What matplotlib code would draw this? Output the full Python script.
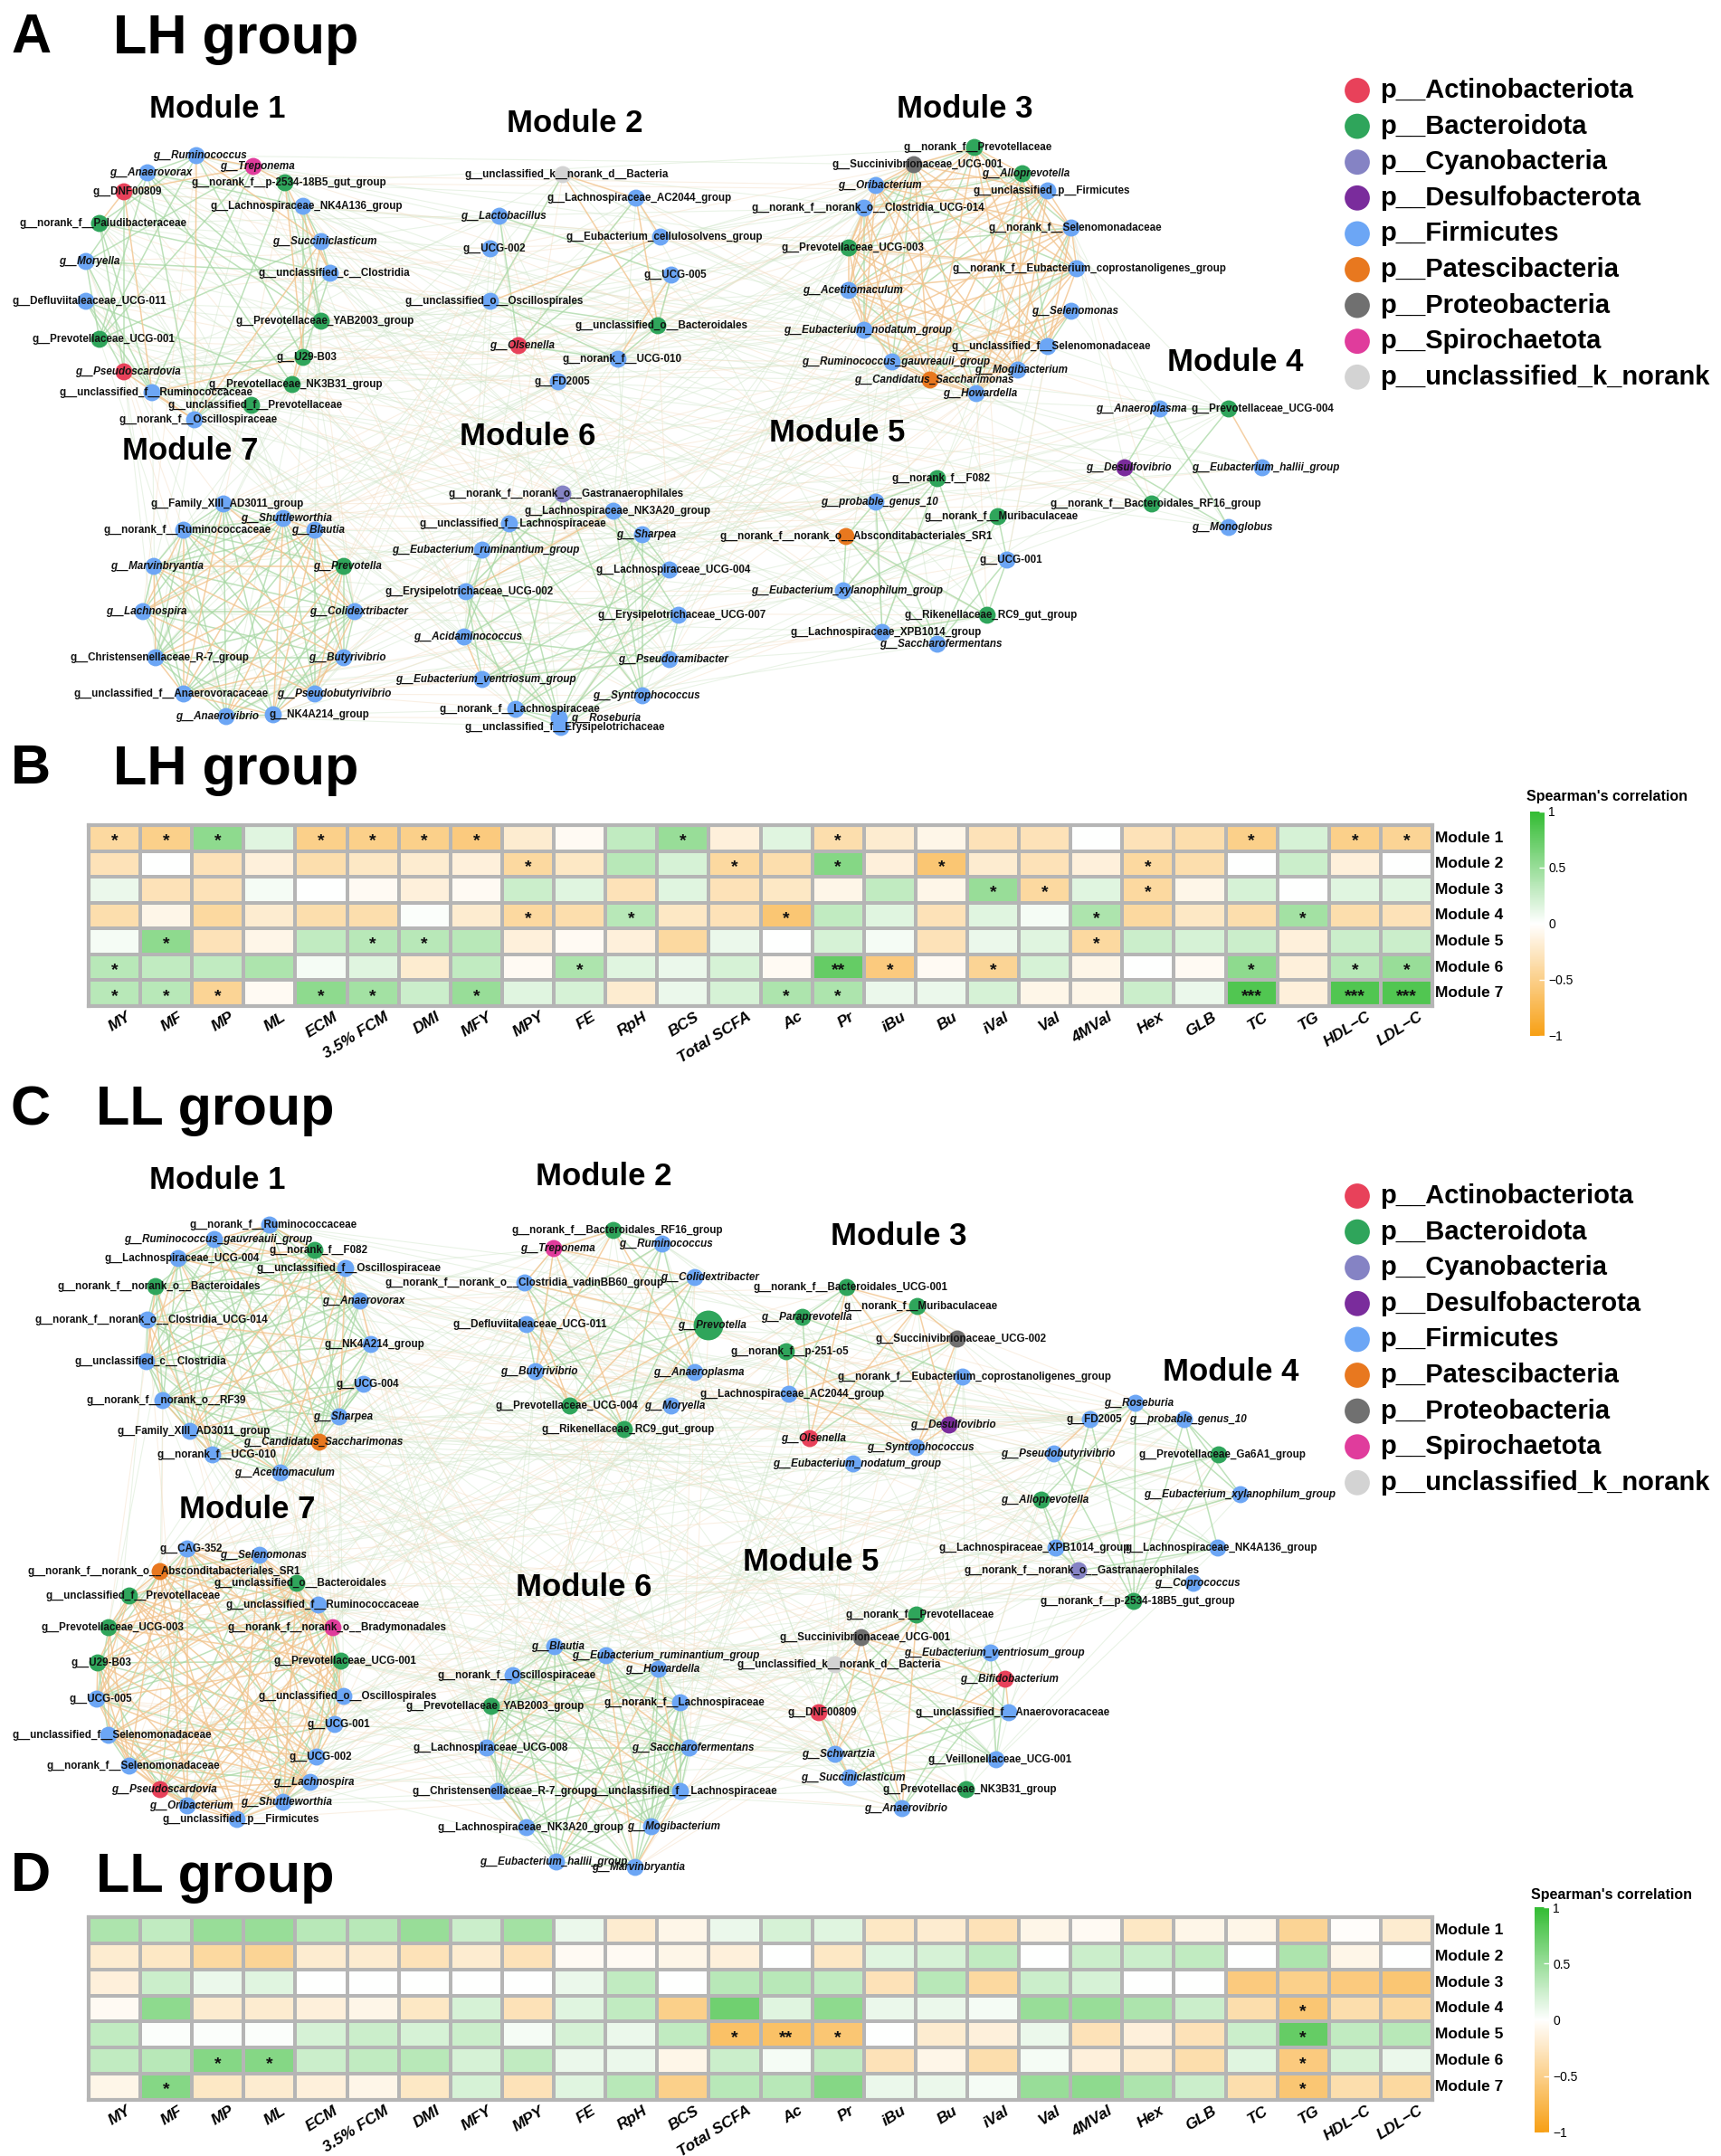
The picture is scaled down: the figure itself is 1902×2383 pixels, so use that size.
import numpy as np
import matplotlib.pyplot as plt
from matplotlib.collections import LineCollection
from matplotlib.colors import LinearSegmentedColormap

plt.rcParams['font.family'] = ['Liberation Sans', 'DejaVu Sans']

W, H = 1902, 2383

# ---------------- phylum legend ----------------
PHYLA = ['p__Actinobacteriota', 'p__Bacteroidota', 'p__Cyanobacteria', 'p__Desulfobacterota',
         'p__Firmicutes', 'p__Patescibacteria', 'p__Proteobacteria', 'p__Spirochaetota',
         'p__unclassified_k_norank']
PHYLUM_CODES = ['Ac', 'Ba', 'Cy', 'De', 'Fi', 'Pa', 'Pr', 'Sp', 'Un']
PHYLUM_COLORS = ['#E8415A', '#2FA55B', '#8583C4', '#7A2C9C', '#6CA6F5',
                 '#E8781F', '#707070', '#E03C9C', '#D3D3D3']

ITALIC = {'Ruminococcus', 'Treponema', 'Anaerovorax', 'Moryella', 'Succiniclasticum',
          'Pseudoscardovia', 'Shuttleworthia', 'Blautia', 'Marvinbryantia', 'Prevotella',
          'Lachnospira', 'Colidextribacter', 'Butyrivibrio', 'Pseudobutyrivibrio',
          'Anaerovibrio', 'Lactobacillus', 'Olsenella', 'Sharpea', 'Acidaminococcus',
          'Pseudoramibacter', 'Syntrophococcus', 'Roseburia', 'Eubacterium_ruminantium_group',
          'Eubacterium_ventriosum_group', 'Eubacterium_xylanophilum_group',
          'Eubacterium_nodatum_group', 'Eubacterium_hallii_group', 'Ruminococcus_gauvreauii_group',
          'Candidatus_Saccharimonas', 'probable_genus_10', 'Alloprevotella', 'Oribacterium',
          'Acetitomaculum', 'Selenomonas', 'Mogibacterium', 'Howardella', 'Anaeroplasma',
          'Desulfovibrio', 'Monoglobus', 'Saccharofermentans', 'Paraprevotella',
          'Bifidobacterium', 'Schwartzia', 'Coprococcus'}

# ---------------- network A (LH group) ----------------
A_M1 = [('g__Ruminococcus', 217, 172, 'Fi'), ('g__Treponema', 280, 184, 'Sp'),
        ('g__Anaerovorax', 163, 191, 'Fi'), ('g__DNF00809', 137, 212, 'Ac'),
        ('g__norank_f__p-2534-18B5_gut_group', 315, 202, 'Ba'),
        ('g__Lachnospiraceae_NK4A136_group', 335, 228, 'Fi'),
        ('g__norank_f__Paludibacteraceae', 110, 247, 'Ba'), ('g__Succiniclasticum', 355, 267, 'Fi'),
        ('g__Moryella', 95, 289, 'Fi'), ('g__unclassified_c__Clostridia', 365, 302, 'Fi'),
        ('g__Defluviitaleaceae_UCG-011', 95, 333, 'Fi'),
        ('g__Prevotellaceae_YAB2003_group', 355, 355, 'Ba'),
        ('g__Prevotellaceae_UCG-001', 110, 375, 'Ba'), ('g__U29-B03', 335, 395, 'Ba'),
        ('g__Pseudoscardovia', 137, 411, 'Ac'), ('g__Prevotellaceae_NK3B31_group', 323, 425, 'Ba'),
        ('g__unclassified_f__Ruminococcaceae', 168, 434, 'Fi'),
        ('g__unclassified_f__Prevotellaceae', 278, 448, 'Ba'),
        ('g__norank_f__Oscillospiraceae', 215, 464, 'Fi')]
A_M2 = [('g__unclassified_k__norank_d__Bacteria', 622, 193, 'Un'),
        ('g__Lachnospiraceae_AC2044_group', 703, 219, 'Fi'), ('g__Lactobacillus', 552, 239, 'Fi'),
        ('g__Eubacterium_cellulosolvens_group', 730, 262, 'Fi'), ('g__UCG-002', 542, 275, 'Fi'),
        ('g__UCG-005', 742, 304, 'Fi'), ('g__unclassified_o__Oscillospirales', 542, 333, 'Fi'),
        ('g__unclassified_o__Bacteroidales', 727, 360, 'Ba'), ('g__Olsenella', 573, 382, 'Ac'),
        ('g__norank_f__UCG-010', 683, 397, 'Fi'), ('g__FD2005', 617, 422, 'Fi')]
A_M3 = [('g__norank_f__Prevotellaceae', 1077, 163, 'Ba'),
        ('g__Succinivibrionaceae_UCG-001', 1010, 182, 'Pr'), ('g__Alloprevotella', 1130, 192, 'Ba'),
        ('g__Oribacterium', 968, 205, 'Fi'), ('g__unclassified_p__Firmicutes', 1158, 211, 'Fi'),
        ('g__norank_f__norank_o__Clostridia_UCG-014', 955, 230, 'Fi'),
        ('g__norank_f__Selenomonadaceae', 1184, 252, 'Fi'),
        ('g__Prevotellaceae_UCG-003', 938, 274, 'Ba'),
        ('g__norank_f__Eubacterium_coprostanoligenes_group', 1190, 297, 'Fi', 10),
        ('g__Acetitomaculum', 938, 321, 'Fi'), ('g__Selenomonas', 1184, 344, 'Fi'),
        ('g__Eubacterium_nodatum_group', 955, 365, 'Fi'),
        ('g__unclassified_f__Selenomonadaceae', 1158, 383, 'Fi'),
        ('g__Ruminococcus_gauvreauii_group', 986, 400, 'Fi'), ('g__Mogibacterium', 1125, 409, 'Fi'),
        ('g__Candidatus_Saccharimonas', 1028, 420, 'Pa'), ('g__Howardella', 1079, 435, 'Fi')]
A_M4 = [('g__Anaeroplasma', 1282, 452, 'Fi', -25), ('g__Prevotellaceae_UCG-004', 1358, 452, 'Ba', 33),
        ('g__Desulfovibrio', 1243, 517, 'De'), ('g__Eubacterium_hallii_group', 1395, 517, 'Fi'),
        ('g__norank_f__Bacteroidales_RF16_group', 1273, 557, 'Ba'), ('g__Monoglobus', 1358, 583, 'Fi')]
A_M5 = [('g__norank_f__F082', 1036, 529, 'Ba'), ('g__probable_genus_10', 968, 555, 'Fi'),
        ('g__norank_f__Muribaculaceae', 1103, 571, 'Ba'),
        ('g__norank_f__norank_o__Absconditabacteriales_SR1', 935, 593, 'Pa', 7),
        ('g__UCG-001', 1113, 619, 'Fi'), ('g__Eubacterium_xylanophilum_group', 932, 653, 'Fi'),
        ('g__Rikenellaceae_RC9_gut_group', 1091, 680, 'Ba'),
        ('g__Lachnospiraceae_XPB1014_group', 975, 699, 'Fi'),
        ('g__Saccharofermentans', 1036, 712, 'Fi')]
A_M6 = [('g__norank_f__norank_o__Gastranaerophilales', 622, 546, 'Cy'),
        ('g__Lachnospiraceae_NK3A20_group', 678, 565, 'Fi'),
        ('g__unclassified_f__Lachnospiraceae', 563, 579, 'Fi'), ('g__Sharpea', 710, 591, 'Fi'),
        ('g__Eubacterium_ruminantium_group', 533, 608, 'Fi'),
        ('g__Lachnospiraceae_UCG-004', 740, 630, 'Fi'),
        ('g__Erysipelotrichaceae_UCG-002', 515, 654, 'Fi'),
        ('g__Erysipelotrichaceae_UCG-007', 750, 680, 'Fi'), ('g__Acidaminococcus', 513, 704, 'Fi'),
        ('g__Pseudoramibacter', 740, 729, 'Fi'), ('g__Eubacterium_ventriosum_group', 533, 751, 'Fi'),
        ('g__Syntrophococcus', 710, 769, 'Fi'), ('g__norank_f__Lachnospiraceae', 570, 784, 'Fi'),
        ('g__Roseburia', 618, 794, 'Fi', 48),
        ('g__unclassified_f__Erysipelotrichaceae', 620, 804, 'Fi')]
A_M7 = [('g__Family_XIII_AD3011_group', 247, 557, 'Fi'), ('g__Shuttleworthia', 313, 573, 'Fi'),
        ('g__norank_f__Ruminococcaceae', 203, 586, 'Fi'), ('g__Blautia', 348, 586, 'Fi'),
        ('g__Marvinbryantia', 170, 626, 'Fi'), ('g__Prevotella', 380, 626, 'Ba'),
        ('g__Lachnospira', 158, 676, 'Fi'), ('g__Colidextribacter', 392, 676, 'Fi'),
        ('g__Christensenellaceae_R-7_group', 172, 727, 'Fi'), ('g__Butyrivibrio', 380, 727, 'Fi'),
        ('g__unclassified_f__Anaerovoracaceae', 203, 767, 'Fi', -18),
        ('g__Pseudobutyrivibrio', 348, 767, 'Fi', 17), ('g__Anaerovibrio', 250, 792, 'Fi', -14),
        ('g__NK4A214_group', 302, 790, 'Fi', 47)]
A_MODULES = [A_M1, A_M2, A_M3, A_M4, A_M5, A_M6, A_M7]
A_TITLE_POS = [(240, 120), (635, 137), (1066, 120), (1365, 401), (925, 479), (583, 483), (210, 499)]
A_DENSITY = [0.35, 0.3, 0.7, 0.5, 0.45, 0.4, 0.8]
A_NEG = [0.35, 0.35, 0.75, 0.2, 0.1, 0.15, 0.35]

# ---------------- network C (LL group) ----------------
C_M1 = [('g__norank_f__Ruminococcaceae', 298, 1354, 'Fi'),
        ('g__Ruminococcus_gauvreauii_group', 237, 1370, 'Fi'), ('g__norank_f__F082', 348, 1382, 'Ba'),
        ('g__Lachnospiraceae_UCG-004', 197, 1391, 'Fi'),
        ('g__unclassified_f__Oscillospiraceae', 382, 1402, 'Fi'),
        ('g__norank_f__norank_o__Bacteroidales', 172, 1422, 'Ba'), ('g__Anaerovorax', 398, 1438, 'Fi'),
        ('g__norank_f__norank_o__Clostridia_UCG-014', 163, 1459, 'Fi'),
        ('g__NK4A214_group', 410, 1486, 'Fi'), ('g__unclassified_c__Clostridia', 162, 1505, 'Fi'),
        ('g__UCG-004', 402, 1530, 'Fi'), ('g__norank_f__norank_o__RF39', 180, 1548, 'Fi'),
        ('g__Sharpea', 375, 1566, 'Fi'), ('g__Family_XIII_AD3011_group', 210, 1582, 'Fi'),
        ('g__Candidatus_Saccharimonas', 353, 1594, 'Pa'), ('g__norank_f__UCG-010', 235, 1608, 'Fi'),
        ('g__Acetitomaculum', 310, 1628, 'Fi')]
C_M2 = [('g__norank_f__Bacteroidales_RF16_group', 678, 1360, 'Ba'), ('g__Treponema', 612, 1380, 'Sp'),
        ('g__Ruminococcus', 732, 1375, 'Fi'),
        ('g__norank_f__norank_o__Clostridia_vadinBB60_group', 580, 1418, 'Fi', -4),
        ('g__Colidextribacter', 768, 1412, 'Fi', 12), ('g__Defluviitaleaceae_UCG-011', 582, 1464, 'Fi'),
        ('g__Prevotella', 783, 1465, 'Ba'), ('g__Butyrivibrio', 592, 1516, 'Fi'),
        ('g__Anaeroplasma', 768, 1517, 'Fi'), ('g__Prevotellaceae_UCG-004', 630, 1554, 'Ba', -8),
        ('g__Moryella', 742, 1554, 'Fi'), ('g__Rikenellaceae_RC9_gut_group', 690, 1580, 'Ba')]
C_M3 = [('g__norank_f__Bacteroidales_UCG-001', 936, 1423, 'Ba'),
        ('g__norank_f__Muribaculaceae', 1014, 1444, 'Ba'), ('g__Paraprevotella', 887, 1456, 'Ba'),
        ('g__Succinivibrionaceae_UCG-002', 1058, 1480, 'Pr'), ('g__norank_f__p-251-o5', 869, 1494, 'Ba'),
        ('g__norank_f__Eubacterium_coprostanoligenes_group', 1064, 1522, 'Fi', 9),
        ('g__Lachnospiraceae_AC2044_group', 872, 1541, 'Fi'), ('g__Desulfovibrio', 1049, 1575, 'De'),
        ('g__Olsenella', 895, 1590, 'Ac'), ('g__Syntrophococcus', 1013, 1600, 'Fi'),
        ('g__Eubacterium_nodatum_group', 943, 1618, 'Fi')]
C_M4 = [('g__Roseburia', 1255, 1551, 'Fi'), ('g__FD2005', 1205, 1569, 'Fi'),
        ('g__probable_genus_10', 1309, 1569, 'Fi'), ('g__Pseudobutyrivibrio', 1165, 1607, 'Fi'),
        ('g__Prevotellaceae_Ga6A1_group', 1347, 1608, 'Ba'),
        ('g__Eubacterium_xylanophilum_group', 1371, 1652, 'Fi', -5),
        ('g__Alloprevotella', 1151, 1658, 'Ba'),
        ('g__Lachnospiraceae_XPB1014_group', 1167, 1711, 'Fi', -28),
        ('g__Lachnospiraceae_NK4A136_group', 1346, 1711, 'Fi'),
        ('g__norank_f__norank_o__Gastranaerophilales', 1192, 1736, 'Cy'),
        ('g__Coprococcus', 1319, 1750, 'Fi'), ('g__norank_f__p-2534-18B5_gut_group', 1253, 1770, 'Ba')]
C_M5 = [('g__norank_f__Prevotellaceae', 1013, 1785, 'Ba'),
        ('g__Succinivibrionaceae_UCG-001', 952, 1810, 'Pr'),
        ('g__Eubacterium_ventriosum_group', 1095, 1827, 'Fi'),
        ('g__unclassified_k__norank_d__Bacteria', 923, 1840, 'Un'),
        ('g__Bifidobacterium', 1111, 1856, 'Ac'), ('g__DNF00809', 905, 1893, 'Ac'),
        ('g__unclassified_f__Anaerovoracaceae', 1115, 1893, 'Fi'), ('g__Schwartzia', 923, 1939, 'Fi'),
        ('g__Veillonellaceae_UCG-001', 1101, 1945, 'Fi'), ('g__Succiniclasticum', 939, 1965, 'Fi'),
        ('g__Prevotellaceae_NK3B31_group', 1068, 1978, 'Ba'), ('g__Anaerovibrio', 997, 1999, 'Fi')]
C_M6 = [('g__Blautia', 613, 1820, 'Fi'), ('g__Eubacterium_ruminantium_group', 670, 1830, 'Fi', 62),
        ('g__norank_f__Oscillospiraceae', 567, 1852, 'Fi'), ('g__Howardella', 728, 1845, 'Fi'),
        ('g__Prevotellaceae_YAB2003_group', 543, 1886, 'Ba'),
        ('g__norank_f__Lachnospiraceae', 752, 1882, 'Fi'),
        ('g__Lachnospiraceae_UCG-008', 538, 1932, 'Fi'), ('g__Saccharofermentans', 762, 1932, 'Fi'),
        ('g__Christensenellaceae_R-7_group', 550, 1980, 'Fi'),
        ('g__unclassified_f__Lachnospiraceae', 752, 1980, 'Fi'),
        ('g__Lachnospiraceae_NK3A20_group', 582, 2020, 'Fi'), ('g__Mogibacterium', 720, 2019, 'Fi', 21),
        ('g__Eubacterium_hallii_group', 615, 2058, 'Fi', -7), ('g__Marvinbryantia', 702, 2064, 'Fi')]
C_M7 = [('g__CAG-352', 207, 1712, 'Fi'), ('g__Selenomonas', 287, 1719, 'Fi'),
        ('g__norank_f__norank_o__Absconditabacteriales_SR1', 177, 1737, 'Pa'),
        ('g__unclassified_o__Bacteroidales', 328, 1750, 'Ba'),
        ('g__unclassified_f__Prevotellaceae', 143, 1764, 'Ba'),
        ('g__unclassified_f__Ruminococcaceae', 352, 1774, 'Fi'),
        ('g__Prevotellaceae_UCG-003', 120, 1799, 'Ba'),
        ('g__norank_f__norank_o__Bradymonadales', 368, 1799, 'Sp'),
        ('g__U29-B03', 108, 1838, 'Ba'), ('g__Prevotellaceae_UCG-001', 377, 1836, 'Ba'),
        ('g__UCG-005', 107, 1878, 'Fi'), ('g__unclassified_o__Oscillospirales', 380, 1875, 'Fi'),
        ('g__unclassified_f__Selenomonadaceae', 120, 1918, 'Fi'), ('g__UCG-001', 370, 1906, 'Fi'),
        ('g__norank_f__Selenomonadaceae', 143, 1952, 'Fi'), ('g__UCG-002', 350, 1942, 'Fi'),
        ('g__Pseudoscardovia', 177, 1978, 'Ac'), ('g__Lachnospira', 343, 1970, 'Fi'),
        ('g__Oribacterium', 207, 1996, 'Fi'), ('g__Shuttleworthia', 313, 1992, 'Fi'),
        ('g__unclassified_p__Firmicutes', 262, 2011, 'Fi')]
C_MODULES = [C_M1, C_M2, C_M3, C_M4, C_M5, C_M6, C_M7]
C_TITLE_POS = [(240, 1305), (667, 1300), (993, 1367), (1360, 1517), (896, 1727), (645, 1755), (273, 1668)]
C_DENSITY = [0.7, 0.5, 0.5, 0.35, 0.5, 0.75, 0.6]
C_NEG = [0.3, 0.45, 0.6, 0.15, 0.45, 0.2, 0.7]
C_BIG = {'g__Prevotella'}

# ---------------- heatmaps ----------------
TRAITS = ['MY', 'MF', 'MP', 'ML', 'ECM', '3.5% FCM', 'DMI', 'MFY', 'MPY', 'FE', 'RpH', 'BCS',
          'Total SCFA', 'Ac', 'Pr', 'iBu', 'Bu', 'iVal', 'Val', '4MVal', 'Hex', 'GLB', 'TC', 'TG',
          'HDL\u2212C', 'LDL\u2212C']
ROWS = ['Module 1', 'Module 2', 'Module 3', 'Module 4', 'Module 5', 'Module 6', 'Module 7']

LH_M1 = [-0.4, -0.5, 0.55, 0.15, -0.5, -0.5, -0.5, -0.55, -0.2, -0.05, 0.3, 0.5, -0.15, 0.15, -0.35,
         -0.2, -0.1, -0.3, -0.3, 0.0, -0.3, -0.35, -0.5, 0.2, -0.5, -0.45]
LH_M2 = [-0.3, 0.0, -0.3, -0.15, -0.35, -0.25, -0.2, -0.15, -0.4, -0.25, 0.35, 0.2, -0.4, -0.35, 0.6,
         -0.15, -0.6, -0.2, -0.3, -0.15, -0.4, -0.35, 0.0, 0.25, -0.15, 0.0]
LH_M3 = [0.1, -0.3, -0.3, 0.05, 0.0, -0.05, -0.15, -0.05, 0.25, 0.15, -0.3, 0.15, -0.3, -0.25, -0.1,
         0.3, -0.1, 0.5, -0.4, 0.15, -0.4, -0.1, 0.2, 0.0, 0.15, 0.15]
LH_M4 = [-0.35, -0.1, -0.4, -0.2, -0.35, -0.35, 0.02, -0.2, -0.4, -0.35, 0.35, -0.25, -0.3, -0.6, 0.3,
         0.15, -0.3, 0.15, 0.05, 0.4, -0.4, -0.25, -0.35, 0.45, -0.35, -0.3]
LH_M5 = [0.05, 0.55, -0.3, -0.1, 0.3, 0.35, 0.35, 0.35, -0.15, -0.05, -0.15, -0.4, 0.1, 0.0, 0.2,
         0.05, -0.3, 0.1, 0.15, -0.4, 0.25, 0.2, 0.25, -0.15, 0.25, 0.25]
LH_M6 = [0.35, 0.3, 0.3, 0.4, 0.05, 0.15, -0.2, 0.3, -0.05, 0.4, 0.15, 0.1, 0.2, -0.05, 0.75,
         -0.55, -0.05, -0.45, 0.2, -0.1, 0.0, -0.05, 0.55, -0.15, 0.35, 0.5]
LH_M7 = [0.35, 0.35, -0.45, -0.05, 0.55, 0.45, 0.25, 0.5, 0.15, 0.2, -0.2, 0.1, 0.2, 0.4, 0.4,
         0.1, 0.1, 0.2, -0.1, -0.1, 0.25, 0.1, 0.85, -0.15, 0.85, 0.85]
LH_STARS = ['* * * . * * * * . . . * . . * . . . . . . . * . * *',
            '. . . . . . . . * . . . * . * . * . . . * . . . . .',
            '. . . . . . . . . . . . . . . . . * * . * . . . . .',
            '. . . . . . . . * . * . . * . . . . . * . . . * . .',
            '. * . . . * * . . . . . . . . . . . . * . . . . . .',
            '* . . . . . . . . * . . . . ** * . * . . . . * . * *',
            '* * * . * * . * . . . . . * * . . . . . . . *** . *** ***']

LL_M1 = [0.4, 0.3, 0.5, 0.5, 0.35, 0.35, 0.5, 0.25, 0.45, 0.1, -0.2, -0.1, 0.1, 0.2, 0.15,
         -0.25, -0.2, -0.3, -0.1, -0.05, -0.25, -0.1, -0.1, -0.45, -0.02, -0.2]
LL_M2 = [-0.2, -0.25, -0.4, -0.45, -0.2, -0.2, -0.3, -0.2, -0.3, -0.05, -0.05, -0.1, -0.15, 0.0, -0.25,
         0.15, 0.2, 0.3, 0.0, 0.25, 0.25, 0.3, 0.0, 0.4, -0.1, 0.0]
LL_M3 = [-0.15, 0.25, 0.1, 0.15, 0.0, 0.0, 0.0, 0.0, 0.0, 0.1, 0.3, 0.0, 0.35, 0.35, 0.3,
         -0.3, 0.35, -0.4, 0.25, 0.2, 0.0, 0.0, -0.55, -0.5, -0.55, -0.6]
LL_M4 = [-0.05, 0.55, -0.2, -0.2, -0.15, -0.1, -0.25, 0.2, -0.3, 0.15, 0.3, -0.5, 0.7, 0.15, 0.55,
         0.1, 0.1, 0.05, 0.5, 0.5, 0.4, 0.25, -0.35, -0.6, -0.35, -0.4]
LL_M5 = [0.3, 0.02, 0.02, 0.02, 0.2, 0.25, 0.2, 0.25, 0.05, 0.2, 0.1, 0.3, -0.65, -0.65, -0.6,
         0.0, -0.2, -0.15, 0.1, -0.3, -0.15, -0.3, 0.25, 0.75, 0.3, 0.35]
LL_M6 = [0.3, 0.35, 0.6, 0.6, 0.25, 0.3, 0.35, 0.2, 0.3, 0.1, 0.1, -0.1, 0.25, 0.05, 0.3,
         -0.3, -0.1, -0.35, 0.05, -0.15, -0.2, -0.35, 0.15, -0.55, 0.2, 0.1]
LL_M7 = [-0.1, 0.6, -0.25, -0.2, -0.15, -0.1, -0.25, 0.2, -0.3, 0.15, 0.35, -0.5, 0.35, 0.35, 0.6,
         0.1, 0.1, 0.05, 0.5, 0.55, 0.4, 0.25, -0.35, -0.6, -0.35, -0.4]
LL_STARS = ['. . . . . . . . . . . . . . . . . . . . . . . . . .',
            '. . . . . . . . . . . . . . . . . . . . . . . . . .',
            '. . . . . . . . . . . . . . . . . . . . . . . . . .',
            '. . . . . . . . . . . . . . . . . . . . . . . * . .',
            '. . . . . . . . . . . . * ** * . . . . . . . . * . .',
            '. . * * . . . . . . . . . . . . . . . . . . . * . .',
            '. * . . . . . . . . . . . . . . . . . . . . . * . .']

cmap = LinearSegmentedColormap.from_list('spear', ['#F7A015', '#FFFFFF', '#33BC33'])

fig = plt.figure(figsize=(W / 100, H / 100), dpi=100)
fig.patch.set_facecolor('white')
ax = fig.add_axes([0, 0, 1, 1])
ax.set_xlim(0, W)
ax.set_ylim(H, 0)
ax.axis('off')


def parse(node):
    dx = node[4] if len(node) > 4 else 0
    return node[0], node[1], node[2], PHYLUM_CODES.index(node[3]), dx


def draw_network(modules, titles, density, neg, big=()):
    allnodes = []
    for m, nodes in enumerate(modules):
        for k, n in enumerate(nodes):
            allnodes.append((m, k, n[1], n[2]))
    # faint edges between modules
    faint_g, faint_o = [], []
    for a in range(len(allnodes)):
        for b in range(a + 1, len(allnodes)):
            if allnodes[a][0] == allnodes[b][0]:
                continue
            h = (a * 53 + b * 97 + a * b * 11) % 1000
            if h < 100:
                seg = [(allnodes[a][2], allnodes[a][3]), (allnodes[b][2], allnodes[b][3])]
                (faint_o if h % 3 == 0 else faint_g).append(seg)
    ax.add_collection(LineCollection(faint_g, colors='#CFE5C8', linewidths=0.8, alpha=0.45, zorder=1))
    ax.add_collection(LineCollection(faint_o, colors='#F4DDC2', linewidths=0.8, alpha=0.45, zorder=1))
    # edges inside modules
    for m, nodes in enumerate(modules):
        g, o = [], []
        for i in range(len(nodes)):
            for j in range(i + 1, len(nodes)):
                h = (i * 31 + j * 17 + i * j * 7 + m * 5) % 100
                if h < density[m] * 100:
                    seg = [(nodes[i][1], nodes[i][2]), (nodes[j][1], nodes[j][2])]
                    if (i * 13 + j * 29 + m * 3) % 100 < neg[m] * 100:
                        o.append(seg)
                    else:
                        g.append(seg)
        ax.add_collection(LineCollection(g, colors='#A8D8A4', linewidths=1.1, alpha=0.75, zorder=2))
        ax.add_collection(LineCollection(o, colors='#F2C48E', linewidths=1.1, alpha=0.8, zorder=2))
    # nodes and labels
    for m, nodes in enumerate(modules):
        for n in nodes:
            label, x, y, p, dx = parse(n)
            size = 560 if label in big else 185
            ax.scatter([x], [y], s=size, color=PHYLUM_COLORS[p], edgecolors='none', zorder=3)
            name = label[3:]
            ax.text(x + dx + 4, y, label, ha='center', va='center', fontsize=8.4,
                    fontweight='bold', fontstyle='italic' if name in ITALIC else 'normal',
                    color='#111111', zorder=4)
        tx, ty = titles[m]
        ax.text(tx, ty, 'Module %d' % (m + 1), ha='center', va='center', fontsize=25,
                fontweight='bold', zorder=5)


def draw_legend(y0):
    for k, name in enumerate(PHYLA):
        y = y0 + k * 39.6
        ax.scatter([1500], [y], s=400, color=PHYLUM_COLORS[k], edgecolors='none', zorder=3)
        ax.text(1525, y, name, ha='left', va='center', fontsize=21, fontweight='bold', zorder=4)


def draw_heat(rows, stars, top, bottom, cb_left, cb_top, cb_bottom, title_y):
    hax = fig.add_axes([98 / W, 1 - bottom / H, (1583 - 98) / W, (bottom - top) / H])
    vals = np.array(rows)
    mesh = hax.pcolormesh(vals, cmap=cmap, vmin=-1, vmax=1, edgecolors='#B5B5B5', linewidth=2.6)
    hax.set_xlim(0, vals.shape[1])
    hax.set_ylim(vals.shape[0], 0)
    hax.set_xticks([])
    hax.set_yticks([])
    for s in hax.spines.values():
        s.set_color('#B5B5B5')
        s.set_linewidth(3)
    for i, row in enumerate(stars):
        for j, tok in enumerate(row.split()):
            if tok != '.':
                hax.text(j + 0.5, i + 0.62, tok, ha='center', va='center', fontsize=14,
                         fontweight='bold', color='#111111')
    for j, t in enumerate(TRAITS):
        hax.text(j + 0.72, vals.shape[0] + 0.15, t, ha='right', va='top', rotation=32,
                 rotation_mode='anchor', fontsize=12.5, fontweight='bold', fontstyle='italic',
                 clip_on=False)
    for i, r in enumerate(ROWS):
        hax.text(vals.shape[1] + 0.06, i + 0.5, r, ha='left', va='center', fontsize=12.5,
                 fontweight='bold', clip_on=False)
    cax = fig.add_axes([cb_left / W, 1 - cb_bottom / H, 16 / W, (cb_bottom - cb_top) / H])
    cb = fig.colorbar(mesh, cax=cax, ticks=[-1, -0.5, 0, 0.5, 1])
    cb.outline.set_visible(False)
    cb.ax.set_yticklabels(['\u22121', '\u22120.5', '0', '0.5', '1'])
    cax.tick_params(labelsize=10, length=4, width=1, color='white', direction='in', pad=3)
    ax.text(cb_left - 4, title_y, "Spearman's correlation", ha='left', va='center',
            fontsize=11.5, fontweight='bold')


# panel headings
HEAD = dict(ha='left', va='center', fontsize=44, fontweight='bold')
ax.text(12, 43, 'A', **HEAD)
ax.text(125, 43, 'LH group', **HEAD)
ax.text(12, 851, 'B', **HEAD)
ax.text(125, 851, 'LH group', **HEAD)
ax.text(12, 1228, 'C', **HEAD)
ax.text(106, 1228, 'LL group', **HEAD)
ax.text(12, 2075, 'D', **HEAD)
ax.text(106, 2075, 'LL group', **HEAD)

draw_network(A_MODULES, A_TITLE_POS, A_DENSITY, A_NEG)
draw_legend(100)
draw_network(C_MODULES, C_TITLE_POS, C_DENSITY, C_NEG, big=C_BIG)
draw_legend(1322)

draw_heat([LH_M1, LH_M2, LH_M3, LH_M4, LH_M5, LH_M6, LH_M7], LH_STARS, 912, 1112,
          1691, 897, 1145, 881)
draw_heat([LL_M1, LL_M2, LL_M3, LL_M4, LL_M5, LL_M6, LL_M7], LL_STARS, 2119, 2321,
          1696, 2108, 2357, 2094)

fig.savefig('out.png', dpi=100, facecolor='white')
